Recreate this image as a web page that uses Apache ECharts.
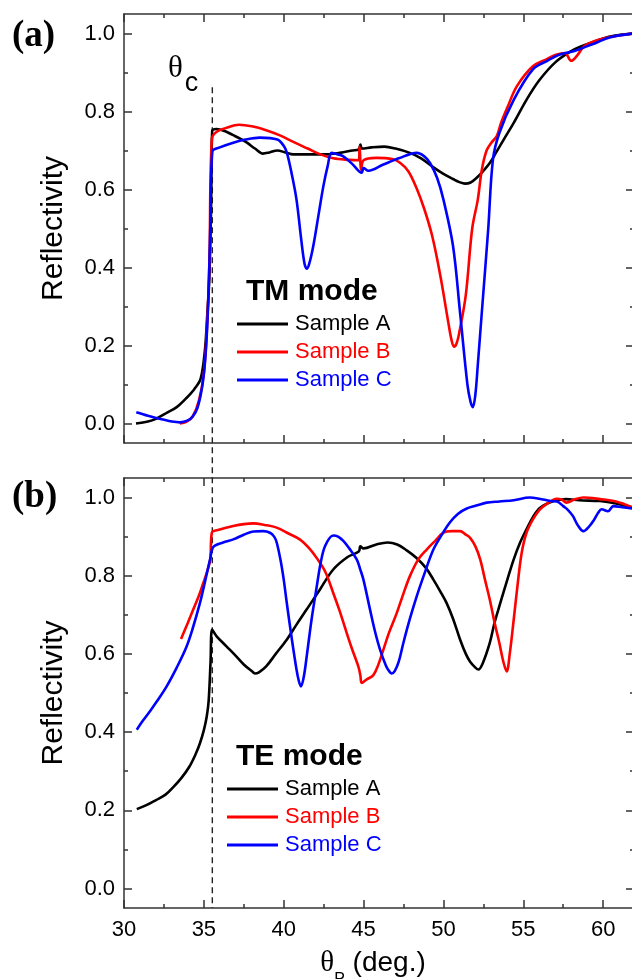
<!DOCTYPE html>
<html><head><meta charset="utf-8">
<script src="https://cdn.jsdelivr.net/npm/echarts@6/dist/echarts.min.js"></script>
<style>html,body{margin:0;padding:0;background:#fff}#c{width:632px;height:979px}</style>
</head><body><div id="c"></div><script>
// ---- tick labels / axis settings ----
const xMajorTicks = [30, 35, 40, 45, 50, 55, 60];
const xMinorTicks = [32.5, 37.5, 42.5, 47.5, 52.5, 57.5];
const yMajorTicks = [0, 0.2, 0.4, 0.6, 0.8, 1.0];
const yMinorTicks = [0.1, 0.3, 0.5, 0.7, 0.9];
const seriesNames = ['Sample A', 'Sample B', 'Sample C'];
const seriesColors = ['#000000', '#ff0000', '#0000ff'];
const thetaC = 35.53;

// ---- TM mode (panel a) ----
const tmA_x = [30.75,31.5,32.0,32.7,33.3,33.9,34.4,34.8,35.07,35.2,35.34,35.45,35.52,35.8,36.3,36.8,37.3,37.7,38.2,38.7,39.1,39.6,40.1,40.6,41.5,42.5,43.5,44.3,44.7,44.8,44.9,45.5,46.3,47.0,47.9,48.6,49.4,50.0,50.6,51.0,51.35,51.7,52.08,52.5,52.9,53.3,53.8,54.4,55.2,56.0,57.0,58.0,58.6,59.5,60.2,61.0,61.9];
const tmA_y = [0.0,0.005,0.012,0.028,0.042,0.065,0.088,0.115,0.19,0.27,0.37,0.55,0.75,0.755,0.75,0.74,0.73,0.72,0.705,0.692,0.695,0.70,0.695,0.69,0.69,0.69,0.694,0.70,0.703,0.715,0.705,0.708,0.71,0.705,0.694,0.68,0.656,0.64,0.627,0.619,0.615,0.618,0.63,0.648,0.668,0.695,0.73,0.771,0.83,0.88,0.926,0.955,0.967,0.98,0.99,0.996,1.0];

const tmB_x = [33.5,33.9,34.3,34.7,35.0,35.2,35.35,35.5,35.8,36.4,37.2,38.0,38.9,39.8,40.6,41.5,42.3,43.1,44.1,44.7,44.75,44.85,45.0,45.8,46.8,47.3,47.8,48.3,48.8,49.3,49.8,50.3,50.5,50.66,50.82,51.0,51.4,51.8,52.15,52.4,52.7,53.0,53.34,53.6,54.0,54.6,55.6,56.5,57.1,57.6,58.0,58.4,58.8,59.8,61.0,61.9];
const tmB_y = [0.0,0.004,0.018,0.06,0.13,0.25,0.42,0.73,0.748,0.758,0.766,0.762,0.752,0.738,0.722,0.705,0.69,0.68,0.676,0.675,0.71,0.65,0.675,0.681,0.678,0.668,0.647,0.605,0.55,0.48,0.38,0.26,0.215,0.197,0.205,0.235,0.33,0.5,0.574,0.65,0.70,0.72,0.737,0.77,0.81,0.865,0.916,0.935,0.946,0.95,0.93,0.945,0.967,0.985,0.995,1.0];

const tmC_x = [30.77,31.5,32.46,33.0,33.5,34.0,34.3,34.6,34.93,35.13,35.28,35.4,35.53,36.0,36.84,37.6,38.5,39.6,40.0,40.2,40.5,40.8,41.1,41.3,41.44,41.6,41.85,42.2,42.48,42.75,43.0,43.4,43.73,44.3,44.88,45.0,45.3,46.24,47.2,48.33,48.8,49.16,49.6,50.0,50.6,51.04,51.5,51.7,51.84,52.0,52.15,52.4,52.8,53.1,53.5,54.4,55.6,56.5,57.3,58.2,58.97,59.5,60.4,61.9];
const tmC_y = [0.029,0.02,0.01,0.005,0.003,0.008,0.018,0.04,0.104,0.19,0.318,0.5,0.698,0.708,0.72,0.728,0.733,0.728,0.712,0.694,0.64,0.574,0.47,0.41,0.397,0.41,0.455,0.54,0.608,0.66,0.694,0.69,0.685,0.665,0.643,0.655,0.648,0.664,0.68,0.694,0.685,0.668,0.63,0.574,0.455,0.284,0.1,0.055,0.042,0.075,0.15,0.284,0.497,0.677,0.745,0.83,0.908,0.93,0.946,0.955,0.967,0.975,0.99,1.0];

// ---- TE mode (panel b) ----
const teA_x = [30.8,31.4,32.0,32.6,33.1,33.6,34.1,34.5,34.76,35.0,35.18,35.3,35.42,35.52,35.8,36.4,37.0,37.5,38.0,38.2,38.45,38.9,39.5,40.2,40.8,41.44,42.27,43.1,44.0,44.7,44.8,45.0,45.8,46.5,47.1,47.7,48.3,48.9,49.37,49.8,50.2,50.6,51.04,51.4,51.67,52.0,52.19,52.45,52.9,53.2,53.5,54.0,54.4,54.8,55.2,55.6,56.05,56.9,57.7,58.5,59.8,60.8,61.9];
const teA_y = [0.203,0.213,0.226,0.24,0.26,0.283,0.312,0.345,0.372,0.405,0.44,0.48,0.58,0.662,0.645,0.62,0.595,0.573,0.556,0.55,0.553,0.568,0.6,0.637,0.675,0.714,0.765,0.816,0.848,0.862,0.875,0.87,0.88,0.885,0.88,0.865,0.846,0.82,0.79,0.76,0.73,0.69,0.637,0.6,0.58,0.565,0.56,0.575,0.628,0.68,0.722,0.79,0.842,0.885,0.919,0.95,0.974,0.991,0.996,0.993,0.991,0.985,0.974];

const teB_x = [33.57,34.0,34.34,34.7,34.97,35.2,35.4,35.5,36.0,36.84,37.5,38.1,38.8,39.56,40.3,41.0,41.6,42.07,42.6,43.1,43.5,43.94,44.3,44.67,44.8,44.88,45.2,45.6,45.9,46.24,46.6,47.08,47.5,47.9,48.4,48.95,49.5,50.0,50.5,51.04,51.4,51.67,52.0,52.3,52.6,52.9,53.2,53.5,53.75,53.96,54.15,54.4,54.65,54.9,55.2,55.6,56.0,56.45,57.1,57.4,57.7,58.2,58.76,59.8,60.8,61.9];
const teB_y = [0.638,0.68,0.714,0.75,0.782,0.81,0.842,0.91,0.918,0.927,0.932,0.934,0.93,0.923,0.908,0.893,0.87,0.845,0.81,0.756,0.71,0.654,0.61,0.568,0.545,0.526,0.535,0.545,0.57,0.611,0.655,0.705,0.755,0.799,0.84,0.867,0.89,0.91,0.914,0.914,0.905,0.897,0.875,0.842,0.79,0.739,0.68,0.628,0.58,0.555,0.6,0.688,0.78,0.859,0.91,0.944,0.968,0.983,0.997,0.995,0.987,0.995,1.0,0.996,0.99,0.974];

const teC_x = [30.8,31.2,31.6,32.05,32.67,33.3,33.9,34.3,34.76,35.1,35.39,35.6,36.2,36.84,37.5,38.1,38.7,39.14,39.4,39.56,39.8,40.0,40.19,40.5,40.8,40.95,41.08,41.25,41.44,41.75,42.07,42.3,42.59,43.1,43.4,43.73,44.1,44.57,44.8,44.99,45.4,45.7,46.03,46.4,46.6,46.76,46.95,47.2,47.49,47.9,48.33,48.85,49.37,49.9,50.4,50.9,51.46,52.1,52.7,53.5,54.4,55.4,56.0,56.7,57.1,57.5,57.8,58.1,58.4,58.76,59.1,59.38,59.7,59.9,60.3,60.64,61.2,61.9];
const teC_y = [0.406,0.43,0.452,0.478,0.517,0.565,0.617,0.665,0.731,0.79,0.842,0.874,0.885,0.893,0.905,0.913,0.914,0.91,0.9,0.885,0.84,0.79,0.731,0.64,0.56,0.53,0.517,0.54,0.594,0.69,0.773,0.83,0.876,0.903,0.9,0.889,0.87,0.842,0.815,0.79,0.714,0.66,0.611,0.57,0.556,0.55,0.556,0.58,0.628,0.69,0.748,0.81,0.867,0.905,0.936,0.958,0.972,0.98,0.987,0.99,0.993,1.0,0.997,0.991,0.99,0.978,0.968,0.953,0.93,0.914,0.925,0.94,0.962,0.97,0.965,0.978,0.975,0.972];

// ---- rendering ----
const SANS = '"Liberation Sans", Arial, sans-serif';
const SERIF = '"Liberation Serif", "Times New Roman", serif';
const FRAME = '#333333';
const X_MIN = 30, X_MAX = 61.93, Y_MIN = -0.05, Y_MAX = 1.05;
const grids = [
  { left: 124, top: 14, width: 510, height: 429, containLabel: false, outerBoundsMode: 'none' },
  { left: 124, top: 478, width: 510, height: 430, containLabel: false, outerBoundsMode: 'none' }
];
function zip(xs, ys) { return xs.map((x, i) => [x, ys[i]]); }

function tick(len, values) {
  return { show: true, inside: true, length: len, customValues: values, lineStyle: { color: FRAME, width: 1.5 } };
}
const xAxes = [], yAxes = [];
grids.forEach((g, gi) => {
  const lineOn = { show: true, onZero: false, lineStyle: { color: FRAME, width: 1.5 } };
  const lineOff = { show: false, onZero: false };
  const base = { gridIndex: gi, type: 'value', min: X_MIN, max: X_MAX, splitLine: { show: false } };
  xAxes.push(Object.assign({}, base, {
    position: 'bottom', axisLine: lineOn, axisTick: tick(8, xMajorTicks),
    axisLabel: { show: gi === 1, customValues: xMajorTicks, margin: 11, fontSize: 22, fontFamily: SANS, color: '#000' },
    name: gi === 1 ? '{t|θ}{s|P}{n| (deg.)}' : '',
    nameLocation: 'middle', nameGap: 30,
    nameTextStyle: { padding: [0, 12, 0, 0], rich: {
      t: { fontFamily: SERIF, fontSize: 29, color: '#000' },
      s: { fontFamily: SANS, fontSize: 16, color: '#000', padding: [34, 0, 0, 0] },
      n: { fontFamily: SANS, fontSize: 28, color: '#000' } } }
  }));
  xAxes.push(Object.assign({}, base, {
    position: 'top', axisLine: lineOn, axisTick: tick(8, xMajorTicks), axisLabel: { show: false }
  }));
  xAxes.push(Object.assign({}, base, {
    position: 'bottom', axisLine: lineOff, axisTick: tick(4, xMinorTicks), axisLabel: { show: false }
  }));
  xAxes.push(Object.assign({}, base, {
    position: 'top', axisLine: lineOff, axisTick: tick(4, xMinorTicks), axisLabel: { show: false }
  }));
  const ybase = { gridIndex: gi, type: 'value', min: Y_MIN, max: Y_MAX, splitLine: { show: false } };
  yAxes.push(Object.assign({}, ybase, {
    position: 'left', axisLine: lineOn, axisTick: tick(8, yMajorTicks),
    axisLabel: { customValues: yMajorTicks, margin: 9, fontSize: 22, fontFamily: SANS, color: '#000',
      formatter: v => Number(v).toFixed(1) },
    name: 'Reflectivity', nameLocation: 'middle', nameGap: 55,
    nameTextStyle: { fontSize: 30, fontFamily: SANS, color: '#000' }
  }));
  yAxes.push(Object.assign({}, ybase, {
    position: 'right', axisLine: lineOn, axisTick: tick(8, yMajorTicks), axisLabel: { show: false }
  }));
  yAxes.push(Object.assign({}, ybase, {
    position: 'left', axisLine: lineOff, axisTick: tick(4, yMinorTicks), axisLabel: { show: false }
  }));
  yAxes.push(Object.assign({}, ybase, {
    position: 'right', axisLine: lineOff, axisTick: tick(4, yMinorTicks), axisLabel: { show: false }
  }));
});

const panelData = [
  [zip(tmA_x, tmA_y), zip(tmB_x, tmB_y), zip(tmC_x, tmC_y)],
  [zip(teA_x, teA_y), zip(teB_x, teB_y), zip(teC_x, teC_y)]
];
const series = [];
panelData.forEach((arr, gi) => {
  arr.forEach((d, si) => {
    series.push({
      type: 'line', name: seriesNames[si], xAxisIndex: gi * 4, yAxisIndex: gi * 4,
      data: d, showSymbol: false, symbol: 'none', smooth: 0.35,
      lineStyle: { color: seriesColors[si], width: 2.6 }, itemStyle: { color: seriesColors[si] },
      z: 3
    });
  });
});

function legendFor(left, top) {
  return {
    left: left, top: top, orient: 'vertical', padding: 0, itemGap: 6,
    icon: 'rect', itemWidth: 51, itemHeight: 3, selectedMode: false,
    textStyle: { fontSize: 22, fontFamily: SANS, lineHeight: 22, padding: [0, 0, 0, 2] },
    data: seriesNames.map((n, i) => ({ name: n, textStyle: { color: seriesColors[i] } }))
  };
}

const chart = echarts.init(document.getElementById('c'), null, { renderer: 'canvas' });
chart.setOption({
  animation: false,
  backgroundColor: '#fff',
  grid: grids,
  xAxis: xAxes,
  yAxis: yAxes,
  legend: [legendFor(237, 313), legendFor(227, 778)],
  title: [
    { text: '(a)', left: 12, top: 18, padding: 0, textStyle: { fontFamily: SERIF, fontWeight: 'bold', fontSize: 37, color: '#000' } },
    { text: '(b)', left: 12, top: 479, padding: 0, textStyle: { fontFamily: SERIF, fontWeight: 'bold', fontSize: 37, color: '#000' } },
    { text: 'TM mode', left: 246, top: 277, padding: 0, textStyle: { fontFamily: SANS, fontWeight: 'bold', fontSize: 30, color: '#000' } },
    { text: 'TE mode', left: 236, top: 742, padding: 0, textStyle: { fontFamily: SANS, fontWeight: 'bold', fontSize: 30, color: '#000' } }
  ],
  series: series
});

const pTop = chart.convertToPixel({ gridIndex: 0 }, [thetaC, 0.862]);
const pBot = chart.convertToPixel({ gridIndex: 1 }, [thetaC, Y_MIN]);
chart.setOption({
  graphic: [
    { type: 'line', z: 2, shape: { x1: pTop[0], y1: pTop[1], x2: pBot[0], y2: pBot[1] },
      style: { stroke: '#222', lineWidth: 1.4, lineDash: [6, 4] } },
    { type: 'text', left: 168, top: 53, z: 5,
      style: { text: '{t|θ}{s|c}', rich: {
        t: { fontFamily: SERIF, fontSize: 31, fill: '#000' },
        s: { fontFamily: SANS, fontSize: 27, fill: '#000', padding: [30, 0, 0, 2] } } } }
  ]
});
</script></body></html>
